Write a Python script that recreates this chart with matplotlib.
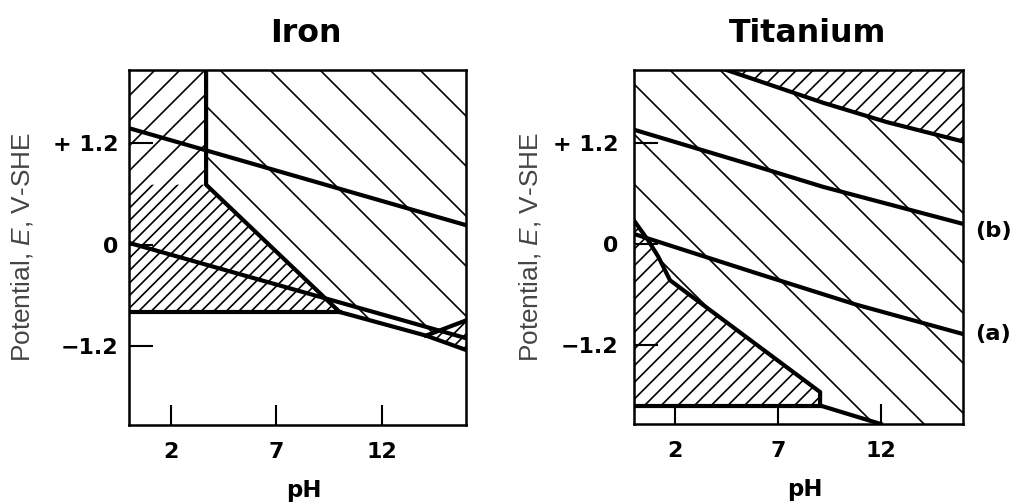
import numpy as np
import matplotlib
matplotlib.use("Agg")
from matplotlib import pyplot as plt

# pourbaix diagrams, values (pH, E in V)
ph_ticks = [2, 7, 12]
e_ticks = [-1.2, 0, 1.2]
e_ticklabels = ["\u22121.2", "0", "+ 1.2"]
ph_lim = (0, 16)
e_lim = (-2.14, 2.07)

# iron
fe_wb_ph = [0, 16]
fe_wb_e = [1.38, 0.23]
fe_wa_ph = [0, 16]
fe_wa_e = [0.02, -1.11]
fe_bound_ph = [3.66, 3.66, 10.0, 14.1, 16]
fe_bound_e = [2.07, 0.71, -0.80, -1.08, -1.25]
fe_flat_ph = [0, 10.0]
fe_flat_e = [-0.80, -0.80]
fe_tri_ph = [14.1, 16]
fe_tri_e = [-1.08, -0.90]

# titanium
ti_top_ph = [4.5, 9.2, 12.3, 16]
ti_top_e = [2.07, 1.68, 1.45, 1.22]
ti_wb_ph = [0, 5.6, 9.2, 16]
ti_wb_e = [1.36, 0.95, 0.68, 0.24]
ti_wa_ph = [0, 6.0, 10.8, 16]
ti_wa_e = [0.12, -0.35, -0.72, -1.07]
ti_low_ph = [0, 0.7, 1.18, 1.75, 9.05, 9.05, 12.0]
ti_low_e = [0.28, 0.04, -0.15, -0.43, -1.76, -1.92, -2.14]
ti_flat_ph = [0, 9.05]
ti_flat_e = [-1.92, -1.92]

plt.rcParams["hatch.linewidth"] = 0.4
plt.rcParams["mathtext.fontset"] = "custom"
plt.rcParams["mathtext.rm"] = "Liberation Sans"
plt.rcParams["mathtext.it"] = "Liberation Sans:italic"

DPI = 300
fig = plt.figure(figsize=(1013 / DPI, 504 / DPI), dpi=DPI)
ax1 = fig.add_axes([129 / 1013, 1 - 425 / 504, 337 / 1013, 355 / 504])
ax2 = fig.add_axes([634 / 1013, 1 - 424 / 504, 329 / 1013, 354 / 504])

LW = 1.0
lo, hi = e_lim
left, right = ph_lim


def hatch(ax, xs, ys, pat):
    ax.fill(xs, ys, facecolor="none", edgecolor="black", linewidth=0, hatch=pat)


# ---- iron regions
hatch(ax1, [left, left, fe_bound_ph[1], fe_bound_ph[1]],
      [fe_bound_e[1], hi, hi, fe_bound_e[1]], "////")
hatch(ax1, [left, left, fe_bound_ph[1], fe_bound_ph[2]],
      [fe_flat_e[0], fe_bound_e[1], fe_bound_e[1], fe_bound_e[2]], "////////")
hatch(ax1, fe_bound_ph[:4] + [fe_tri_ph[1], right],
      [hi] + fe_bound_e[1:4] + [fe_tri_e[1], hi], "\\\\")
hatch(ax1, [fe_tri_ph[0], fe_tri_ph[1], fe_bound_ph[4]],
      [fe_tri_e[0], fe_tri_e[1], fe_bound_e[4]], "////////")

ax1.plot(fe_wb_ph, fe_wb_e, color="black", lw=LW)
ax1.plot(fe_wa_ph, fe_wa_e, color="black", lw=LW)
ax1.plot(fe_bound_ph, fe_bound_e, color="black", lw=LW)
ax1.plot(fe_flat_ph, fe_flat_e, color="black", lw=LW)
ax1.plot(fe_tri_ph, fe_tri_e, color="black", lw=LW)

# ---- titanium regions
hatch(ax2, ti_low_ph[:5] + [ti_flat_ph[1], left],
      ti_low_e[:5] + [ti_flat_e[1], ti_flat_e[0]], "//////")
hatch(ax2, [left, left] + ti_top_ph + [right] + ti_low_ph[::-1],
      [ti_low_e[0], hi] + ti_top_e + [lo] + ti_low_e[::-1], "\\\\")
hatch(ax2, ti_top_ph + [right], ti_top_e + [hi], "//////")

ax2.plot(ti_top_ph, ti_top_e, color="black", lw=LW)
ax2.plot(ti_wb_ph, ti_wb_e, color="black", lw=LW)
ax2.plot(ti_wa_ph, ti_wa_e, color="black", lw=LW)
ax2.plot(ti_low_ph, ti_low_e, color="black", lw=LW)
ax2.plot(ti_flat_ph, ti_flat_e, color="black", lw=LW)

ax2.annotate("(b)", xy=(ti_wb_ph[-1], ti_wb_e[-1]), xytext=(2.9, -1.6),
             textcoords="offset points", ha="left", va="center",
             fontsize=5.4, fontweight="bold", annotation_clip=False)
ax2.annotate("(a)", xy=(ti_wa_ph[-1], ti_wa_e[-1]), xytext=(2.9, 0),
             textcoords="offset points", ha="left", va="center",
             fontsize=5.4, fontweight="bold", annotation_clip=False)

# ---- axes styling
for ax, title, ypad, dx in [(ax1, "Iron", 2.6, 8 / 337), (ax2, "Titanium", 3.8, 9.5 / 329)]:
    ax.set_xlim(ph_lim)
    ax.set_ylim(e_lim)
    ax.set_xticks(ph_ticks)
    ax.set_yticks(e_ticks)
    ax.set_yticklabels(e_ticklabels)
    for lab in ax.get_xticklabels() + ax.get_yticklabels():
        lab.set_fontweight("bold")
    ax.tick_params(axis="x", direction="in", length=4.8, width=0.5, pad=4.0, labelsize=5.3)
    ax.tick_params(axis="y", direction="in", length=5.8, width=0.5, pad=ypad, labelsize=5.3)
    for sp in ax.spines.values():
        sp.set_linewidth(0.6)
    ax.text(0.5 + dx, 1.104, title, transform=ax.transAxes, ha="center", va="center",
            fontsize=7.6, fontweight="bold")
    ax.set_xlabel("pH", fontsize=5.5, fontweight="bold")
    ax.xaxis.set_label_coords(0.52, -0.152)
    ax.set_ylabel("Potential, $\\it{E}$, V-SHE", fontsize=6.3, family="Liberation Sans",
                  color="#444444")
    ax.yaxis.set_label_coords(-0.278, 0.5)

fig.savefig("out.png", dpi=DPI)
